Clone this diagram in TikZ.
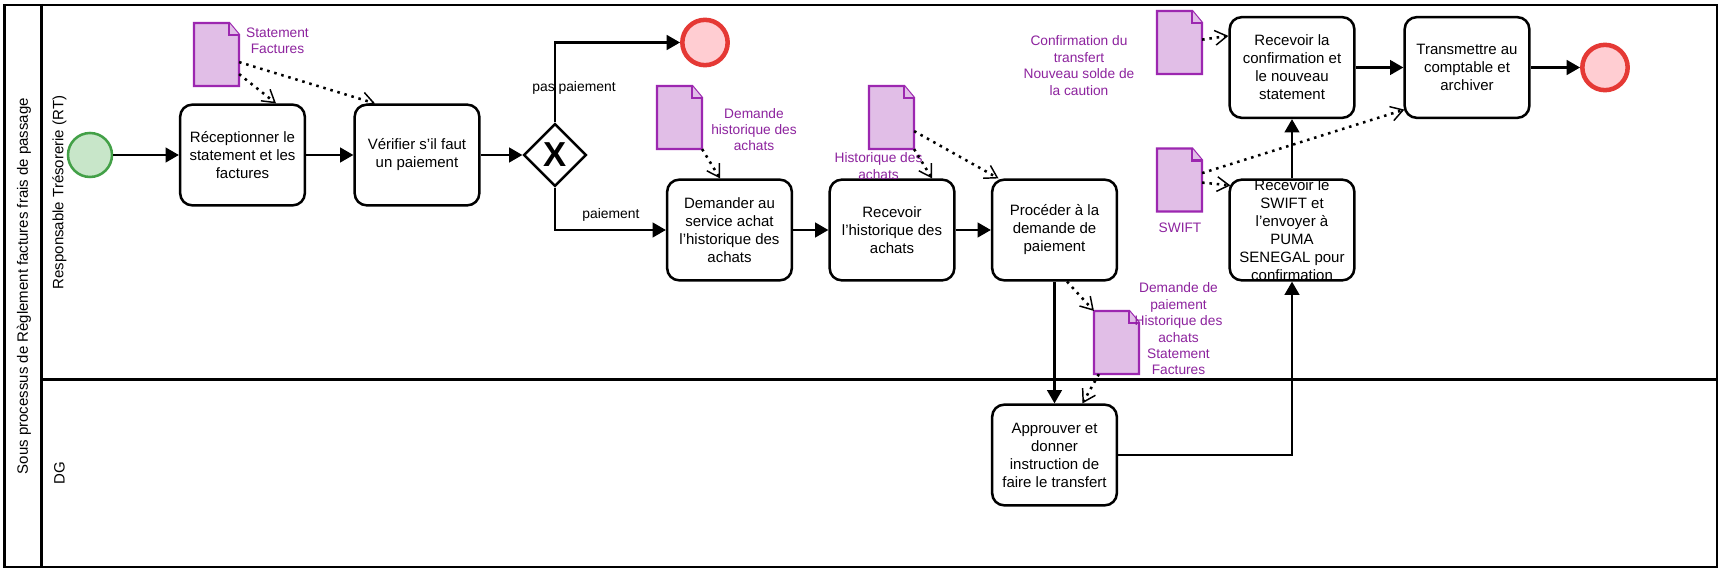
\documentclass[tikz,border=0pt]{standalone}
\usepackage{fontspec}
\setmainfont{Liberation Sans}
\usetikzlibrary{arrows.meta,shapes.geometric}
\definecolor{docline}{HTML}{9C27B0}
\definecolor{docfill}{HTML}{E1BEE7}
\definecolor{startline}{HTML}{43A047}
\definecolor{startfill}{HTML}{C8E6C9}
\definecolor{endline}{HTML}{E53935}
\definecolor{endfill}{HTML}{FFCDD2}
\tikzset{
  frame/.style={draw=black,line width=1.9pt},
  task/.style={draw=black,fill=white,line width=1.9pt,rounded corners=9pt,minimum width=93.5pt,minimum height=75.5pt,inner sep=0pt,align=center,font=\fontsize{11.25}{13.5}\selectfont},
  tasktext/.style={inner sep=0pt,align=center,font=\fontsize{11.25}{13.5}\selectfont},
  startev/.style={circle,draw=startline,fill=startfill,line width=1.9pt,minimum size=33pt,inner sep=0pt},
  endev/.style={circle,draw=endline,fill=endfill,line width=3.4pt,minimum size=34pt,inner sep=0pt},
  gate/.style={diamond,draw=black,fill=white,line width=1.9pt,minimum width=47pt,minimum height=47pt,inner sep=0pt,font=\fontsize{26}{26}\bfseries\selectfont},
  docbox/.style={minimum width=33.5pt,minimum height=47pt,inner sep=0pt},
  docshape/.style={draw=docline,fill=docfill,line width=1.7pt,line join=miter},
  flow/.style={draw=black,line width=1.8pt,-{Triangle[length=10pt,width=11pt]}},
  assoc/.style={draw=black,line width=1.9pt,dash pattern=on 1.9pt off 3.6pt,-{Straight Barb[length=9pt,width=11pt,line width=1.1pt]}},
  doclabel/.style={inner sep=0pt,align=center,text=docline!90!black,font=\fontsize{10.3}{12.3}\selectfont},
  flowlabel/.style={inner sep=0pt,font=\fontsize{10.4}{12}\selectfont},
  lanelabel/.style={inner sep=0pt,rotate=90,font=\fontsize{11.25}{13}\selectfont}
}
\newcommand{\docat}[3]{%
  \node[docbox] (#1) at (#2,#3) {};
  \draw[docshape] (#1.south west) -- (#1.north west) -- ([shift={(-10,0)}]#1.north east) -- ([shift={(0,12)}]#1.north east) -- (#1.south east) -- cycle;
  \draw[docshape] ([shift={(-10,0)}]#1.north east) -- ([shift={(-10,12)}]#1.north east) -- ([shift={(0,12)}]#1.north east);
}
\begin{document}
\begin{tikzpicture}[x=0.75pt,y=-0.75pt]
\path[use as bounding box,fill=white] (0,0) rectangle (1725,577);
% pool
\node[frame,minimum width=1284.3pt,minimum height=421.3pt,inner sep=0pt] (pool) at (860.8,286) {};
\draw[frame] ([shift={(38.4,0)}]pool.north west) -- ([shift={(38.4,0)}]pool.south west);
\draw[frame] ([shift={(38.4,375.6)}]pool.north west) -- ([shift={(0,375.6)}]pool.north east);
\node[lanelabel] (lbpool) at (24,286) {Sous processus de Règlement factures frais de passage};
\node[lanelabel] (lbrt) at (59.5,192.5) {Responsable Trésorerie (RT)};
\node[lanelabel] (lbdg) at (59.5,473.5) {DG};
% events
\node[startev] (start) at (90,155) {};
\node[endev] (end1) at (705,42.5) {};
\node[endev] (end2) at (1605,67.5) {};
% tasks
\node[task] (t1) at (242.5,155) {Réceptionner le\\statement et les\\factures};
\node[task] (t2) at (417,155) {Vérifier s’il faut\\un paiement};
\node[gate] (g) at (555,155) {X};
\node[task] (t3) at (729.5,230) {Demander au\\service achat\\l’historique des\\achats};
\node[task] (t4) at (892,230) {Recevoir\\l’historique des\\achats};
\node[task] (t5) at (1054.5,230) {Procéder à la\\demande de\\paiement};
\node[task] (t6) at (1292,67.5) {Recevoir la\\confirmation et\\le nouveau\\statement};
\node[task,label={[tasktext]center:Recevoir le\\SWIFT et\\l’envoyer à\\PUMA\\SENEGAL pour\\confirmation}] (t7) at (1292,230) {};
\node[task] (t8) at (1467,67.5) {Transmettre au\\comptable et\\archiver};
\node[task] (t9) at (1054.5,455) {Approuver et\\donner\\instruction de\\faire le transfert};
% documents
\docat{d1}{216.5}{54.5}
\docat{d2}{679.5}{117.5}
\docat{d3}{891.5}{117.5}
\docat{d4}{1179.5}{42.5}
\docat{d5}{1179.5}{180}
\docat{d6}{1116.5}{342.5}
% document labels
\node[doclabel] (l1) at (277.5,41) {Statement\\Factures};
\node[doclabel] (l2) at (754,129.5) {Demande\\historique des\\achats};
\node[doclabel] (l3) at (878.5,166) {Historique des\\achats};
\node[doclabel] (l4) at (1079,65.5) {Confirmation du\\transfert\\Nouveau solde de\\la caution};
\node[doclabel] (l5) at (1180,228) {SWIFT};
\node[doclabel] (l6) at (1178.5,329) {Demande de\\paiement\\Historique des\\achats\\Statement\\Factures};
% flows
\draw[flow] (start.east) -- (t1.west);
\draw[flow] (t1.east) -- (t2.west);
\draw[flow] (t2.east) -- (g.west);
\draw[flow] (g.north) |- (end1.west);
\draw[flow] (g.south) |- (t3.west);
\draw[flow] (t3.east) -- (t4.west);
\draw[flow] (t4.east) -- (t5.west);
\draw[flow] (t5.south) -- (t9.north);
\draw[flow] (t9.east) -| (t7.south);
\draw[flow] (t7.north) -- (t6.south);
\draw[flow] (t6.east) -- (t8.west);
\draw[flow] (t8.east) -- (end2.west);
\node[flowlabel] (fl1) at (574,88) {pas paiement};
\node[flowlabel] (fl2) at (611,215) {paiement};
% associations
\draw[assoc] ([shift={(0,-12)}]d1.south east) -- ([shift={(33.5,0)}]t1.north);
\draw[assoc] ([shift={(0,-24)}]d1.south east) -- ([shift={(-42,0)}]t2.north);
\draw[assoc] (d2.south east) -- ([shift={(-9.5,0)}]t3.north);
\draw[assoc] (d3.south east) -- ([shift={(40,0)}]t4.north);
\draw[assoc] ([shift={(0,-18)}]d3.south east) -- ([shift={(-56,0)}]t5.north);
\draw[assoc] ([shift={(0,-34.5)}]d4.south east) -- ([shift={(0,20)}]t6.north west);
\draw[assoc] ([shift={(0,-38.5)}]d5.south east) -- ([shift={(1,-9.5)}]t8.south west);
\draw[assoc] ([shift={(0,-29)}]d5.south east) -- ([shift={(2,7)}]t7.north west);
\draw[assoc] ([shift={(12.5,0)}]t5.south) -- (d6.north west);
\draw[assoc] ([shift={(5,0)}]d6.south west) -- ([shift={(28,0)}]t9.north);
\end{tikzpicture}
\end{document}
